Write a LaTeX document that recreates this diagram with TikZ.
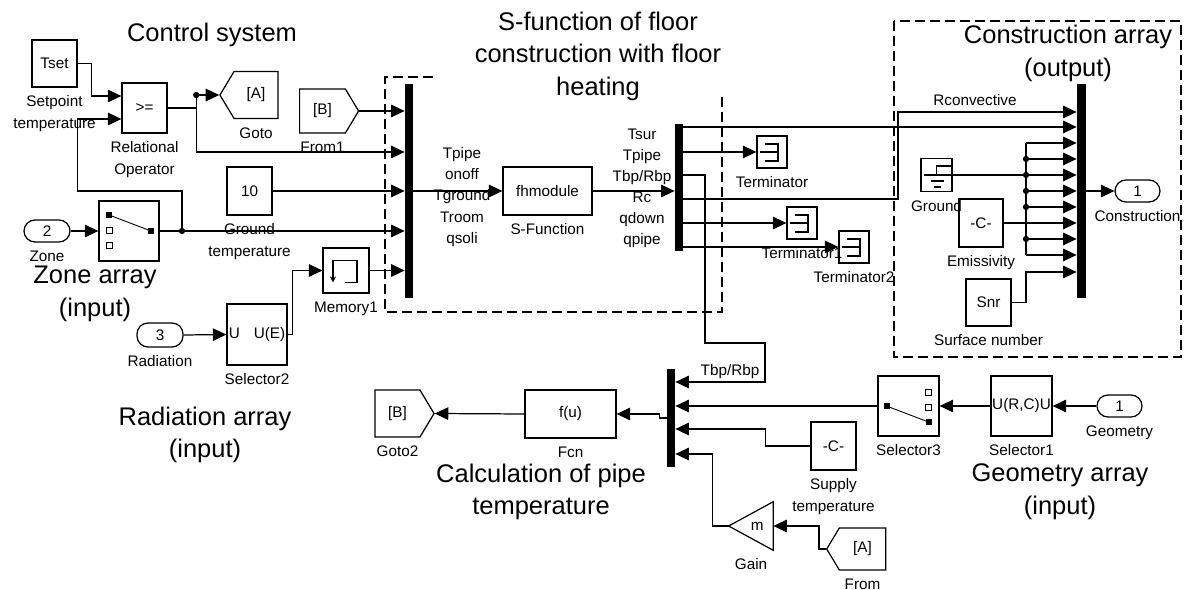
\documentclass[tikz,border=0pt]{standalone}
\usepackage{fontspec}
\setmainfont{Liberation Sans}
\usepackage{tikz}
\usetikzlibrary{arrows.meta,calc,positioning,shapes.symbols}
\newcommand{\blkfont}{\fontsize{8.7}{12}\selectfont}
\newcommand{\ttlfont}{\fontsize{14.5}{18.5}\selectfont}
\tikzset{
  switchicon/.pic={
    \fill (-23,-19) rectangle (-17,-13);
    \draw[line width=0.5pt] (-23,-4) rectangle (-17,2) (-23,11) rectangle (-17,17);
    \fill (19,-3) rectangle (25,3);
    \draw[line width=0.5pt] (-20,-16) -- (22,0);
  },
  termicon/.pic={
    \draw[line width=0.7pt] (-7,-8) -- (6,-8) -- (6,9) -- (-7,9) (-12,0) -- (6,0);
  },
  groundicon/.pic={
    \draw[line width=0.7pt] (0,0) -- (0,-9) -- (14,-9) (-13,0) -- (14,0)
      (-6,6) -- (7,6) (-3,12) -- (4,12);
  },
  memicon/.pic={
    \draw[line width=0.7pt] (-13,-10) -- (11,-10) -- (11,12) -- (-1,12);
    \draw[line width=0.7pt,-{Stealth[length=1.2mm,width=1.2mm]}] (-13,-10) -- (-13,12);
  }
}

\begin{document}
\begin{tikzpicture}[
    x=0.02cm, y=-0.02cm,
    blk/.style={draw,line width=0.7pt,inner sep=0pt,font=\blkfont},
    port/.style={blk,rounded corners=0.22cm,minimum width=0.92cm,minimum height=0.44cm},
    tagL/.style={blk,signal,signal to=west,signal pointer angle=118},
    tagR/.style={blk,signal,signal to=east,signal pointer angle=118},
    bar/.style={fill=black,inner sep=0pt},
    termblk/.style={blk,minimum width=0.6cm,minimum height=0.64cm},
    sig/.style={line width=0.7pt,-{Triangle[length=2.7mm,width=2.5mm]}},
    wire/.style={line width=0.7pt},
    dot/.style={circle,fill=black,inner sep=0pt,minimum size=3.6pt},
    groupbox/.style={line width=1.1pt,dash pattern=on 0.2cm off 0.1cm},
    lbl/.style={font=\blkfont,inner sep=0pt,align=center},
    ttl/.style={font=\ttlfont,inner sep=0pt,align=center},
    under/.style={label={[lbl,label distance=4.5pt]below:#1}}
  ]
  \useasboundingbox (0,0) rectangle (1186,590);

  % control system
  \node[blk,minimum width=0.9cm,minimum height=0.94cm,under={Setpoint\\temperature}] (tset) at (54.5,63.5) {Tset};
  \node[blk,minimum width=0.9cm,minimum height=1cm,under={Relational\\Operator}] (relop) at (144.5,108) {>=};
  \node[tagL,minimum width=1.16cm,minimum height=0.94cm,under=Goto] (goto) at (256,95) {[A]};
  \node[tagR,minimum width=1.18cm,minimum height=0.88cm,under=From1] (from1) at (322.5,111) {[B]};
  \node[blk,minimum width=0.9cm,minimum height=0.96cm,under={Ground\\temperature}] (ground10) at (249.5,191) {10};
  \node[port,under=Zone] (zonein) at (47,231) {2};
  \node[blk,minimum width=1.2cm,minimum height=1.2cm] (zonesel) at (129,231) {};
  \pic at (zonesel.center) {switchicon};
  \node[blk,minimum width=0.92cm,minimum height=0.9cm,under=Memory1] (memory) at (346,270.5) {};
  \pic at (memory.center) {memicon};
  \node[port,minimum height=0.48cm,under=Radiation] (radin) at (160,335) {3};
  \node[blk,minimum width=1.2cm,minimum height=1.22cm,under=Selector2] (sel2) at (257,334.5) {U\hspace{0.28cm}U(E)};
  \node[bar,minimum width=0.16cm,minimum height=4.28cm] (mux1) at (409,191) {};

  % S-function
  \node[blk,minimum width=1.78cm,minimum height=0.96cm,under=S-Function] (sfun) at (547.5,191) {fhmodule};
  \node[lbl] (sfunin) at (462,197) {Tpipe\\onoff\\Tground\\Troom\\qsoli};
  \node[lbl] (sfunout) at (642,188.5) {Tsur\\Tpipe\\Tbp/Rbp\\Rc\\qdown\\qpipe};
  \node[bar,minimum width=0.16cm,minimum height=2.54cm] (demux) at (679,187.5) {};
  \node[termblk,under=Terminator] (term) at (772,152) {};
  \node[termblk,under=Terminator1] (term1) at (802,223) {};
  \node[termblk,under=Terminator2] (term2) at (854,247) {};
  \foreach \t in {term,term1,term2} \pic at (\t.center) {termicon};

  % construction array
  \node[bar,minimum width=0.18cm,minimum height=4.28cm] (mux2) at (1081.5,191) {};
  \node[port,minimum width=0.9cm,under=Construction] (constr) at (1137.5,191) {1};
  \node[blk,minimum width=0.62cm,minimum height=0.66cm,under=Ground] (ground) at (936.5,175) {};
  \pic at (ground.center) {groundicon};
  \node[blk,minimum width=0.88cm,minimum height=0.96cm,under=Emissivity] (emis) at (981,223) {-C-};
  \node[blk,minimum width=0.9cm,minimum height=0.94cm,under=Surface number] (snr) at (988.5,302.5) {Snr};

  % pipe temperature
  \node[tagR,minimum width=1.18cm,minimum height=0.94cm,under=Goto2] (goto2) at (397.5,413.5) {[B]};
  \node[blk,minimum width=1.82cm,minimum height=0.96cm,under=Fcn] (fcn) at (570.5,414) {f(u)};
  \node[bar,minimum width=0.16cm,minimum height=1.96cm] (mux3) at (671,418) {};
  \node[blk,minimum width=1.22cm,minimum height=1.2cm,under=Selector3] (sel3) at (908.5,406) {};
  \pic[rotate=180] at (sel3.center) {switchicon};
  \node[blk,minimum width=0.9cm,minimum height=0.96cm,under={Supply\\temperature}] (supply) at (833.5,446) {-C-};
  \node[lbl,minimum width=0.88cm,minimum height=0.96cm,under=Gain] (gain) at (751,526) {\hspace{0.25cm}m};
  \draw[wire] (gain.west) -- (gain.north east) -- (gain.south east) -- cycle;
  \node[tagL,minimum width=1.18cm,minimum height=0.84cm,under=From] (fromA) at (862.5,549) {[A]};
  \node[blk,minimum width=1.22cm,minimum height=1.2cm,under=Selector1] (sel1) at (1021.5,406) {U(R,C)U};
  \node[port,minimum width=0.9cm,under=Geometry] (geomin) at (1119.5,406) {1};

  % titles
  \node[ttl] (ctrltitle) at (212,35) {Control system};
  \node[ttl] (sfuntitle) at (598,56) {S-function of floor\\construction with floor\\heating};
  \node[ttl] (constrtitle) at (1068,53.5) {Construction array\\(output)};
  \node[ttl] (zonetitle) at (95,294) {Zone array\\(input)};
  \node[ttl] (radtitle) at (205,435) {Radiation array\\(input)};
  \node[ttl] (pipetitle) at (541,492) {Calculation of pipe\\temperature};
  \node[ttl] (geomtitle) at (1060,492) {Geometry array\\(input)};
  \node[lbl] (rclbl) at (975,100) {Rconvective};
  \node[lbl] (tbplbl) at (730,372) {Tbp/Rbp};

  % dashed groups
  \draw[groupbox] (433,77) -- (385,77) -- (385,312) -- (722,312) -- (722,97);
  \draw[groupbox] (894,21) rectangle (1181,357);

  % control wires
  \coordinate (j0) at ([xshift=-0.46cm]goto.west);
  \coordinate (j1) at (182,231);
  \draw[sig] (tset.east) -| ([xshift=-0.6cm,yshift=0.24cm]relop.west) -- ([yshift=0.24cm]relop.west);
  \draw[sig] (j1) |- (tset.east |- ground10.east) |- ([yshift=-0.22cm]relop.west);
  \draw[wire] (relop.east) -| (j0);
  \draw[sig] (j0) -- (goto.west);
  \draw[sig] (j0) |- (mux1.west |- 0,152);
  \draw[sig] (from1.east) -- (from1.east -| mux1.west);
  \draw[sig] (ground10.east) -- (ground10.east -| mux1.west);
  \draw[sig] (zonein.east) -- (zonesel.west);
  \draw[sig] (zonesel.east) -- (zonesel.east -| mux1.west);
  \draw[sig] (radin.east) -- (sel2.west);
  \draw[sig] (sel2.east) -| ([xshift=-0.6cm]memory.west) -- (memory.west);
  \draw[sig] (memory.east) -- (memory.east -| mux1.west);
  \node[dot] (j0dot) at (j0) {};
  \node[dot] (j1dot) at (j1) {};

  % S-function wires
  \draw[sig] (mux1.east) -- (sfun.west);
  \draw[sig] (sfun.east) -- (sfun.east -| demux.west);
  \foreach \y [count=\i] in {127,152,175,199,223,247}
    \coordinate (d\i) at (demux.east |- 0,\y);
  \foreach \y [count=\i] in {112,127,143,159,175,191,207,223,239,255,272}
    \coordinate (m2in\i) at (mux2.west |- 0,\y);
  \coordinate (t1) at (705,343);
  \coordinate (t2) at (765,382);
  \coordinate (rc) at (898,112);
  \draw[sig] (d1) -- (d1 -| mux2.west);
  \draw[sig] (d2) -- (term.west);
  \draw[sig] (d3) -| (t1) -| (t2) -- (t2 -| mux3.east);
  \draw[sig] (d4) -| (rc) -- (rc -| mux2.west);
  \draw[sig] (d5) -- (term1.west);
  \draw[sig] (d6) -- (term2.west);

  % construction wires
  \coordinate (bus) at (1026,0);
  \draw[wire] (bus |- m2in3) -- (bus |- m2in10);
  \foreach \i in {3,4,6,7,9,10} \draw[sig] (bus |- m2in\i) -- (m2in\i);
  \draw[sig] (ground.east) -- (ground.east -| mux2.west);
  \draw[sig] (emis.east) -- (emis.east -| mux2.west);
  \draw[sig] (snr.east) -| (bus |- m2in11) -- (m2in11);
  \foreach \i in {4,5,6,7,9} \node[dot] (bdot\i) at (bus |- m2in\i) {};
  \draw[sig] (mux2.east) -- (constr.west);

  % pipe temperature wires
  \draw[sig] (geomin.west) -- (sel1.east);
  \draw[sig] (sel1.west) -- (sel3.east);
  \draw[sig] (sel3.west) -- (sel3.west -| mux3.east);
  \draw[sig] (supply.west) -- ++(-0.9cm,0) |- (mux3.east |- 0,429);
  \draw[sig] (gain.west) -- ++(-0.32cm,0) |- (mux3.east |- 0,454);
  \draw[sig] (fromA.west) -- ++(-0.14cm,0) |- (gain.east);
  \draw[sig] (mux3.west) -- ++(-0.14cm,0) |- (fcn.east);
  \draw[sig] (fcn.west) -- (goto2.east);
\end{tikzpicture}
\end{document}
